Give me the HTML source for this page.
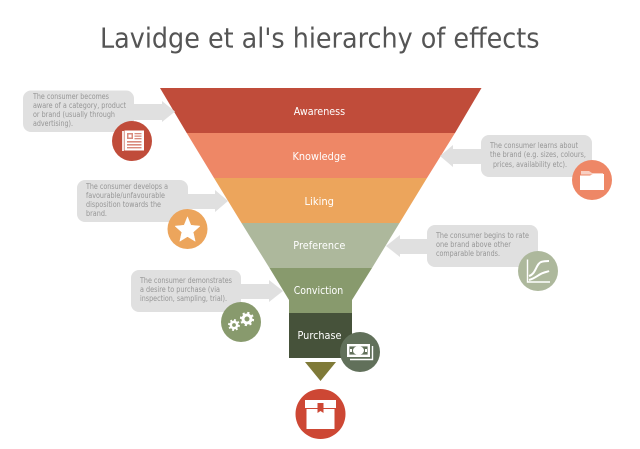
<!DOCTYPE html>
<html><head><meta charset="utf-8"><style>
html,body{margin:0;padding:0;background:#fff}
svg{display:block}
.n{font:8.2px "DejaVu Sans",sans-serif;fill:#969696}
.l{font:11px "DejaVu Sans",sans-serif;fill:#fff}
</style></head><body>
<svg width="640" height="449" viewBox="0 0 640 449" xmlns="http://www.w3.org/2000/svg">
<rect width="640" height="449" fill="#fff"/>
<text x="100" y="47.5" textLength="439.5" lengthAdjust="spacingAndGlyphs" style="font:28px 'DejaVu Sans',sans-serif" fill="#555555">Lavidge et al's hierarchy of effects</text>

<!-- funnel -->
<polygon points="160,88 481.5,88 455,133 186.7,133" fill="#c04c3a"/>
<polygon points="186.7,133 455,133 427,178 214,178" fill="#ee8766"/>
<polygon points="214,178 427,178 399.5,223 241.5,223" fill="#eca55c"/>
<polygon points="241.5,223 399.5,223 372,268 269.5,268" fill="#adb89c"/>
<polygon points="269.5,268 372,268 352,300 352,313 289,313 289,300" fill="#889a6d"/>
<rect x="289" y="313" width="63" height="45" fill="#46523a"/>
<polygon points="305,362 336,362 320.5,381" fill="#7f7a38"/>

<!-- labels -->
<text class="l" x="293.7" y="115" textLength="51.5" lengthAdjust="spacingAndGlyphs">Awareness</text>
<text class="l" x="292.5" y="160" textLength="53.5" lengthAdjust="spacingAndGlyphs">Knowledge</text>
<text class="l" x="304.5" y="205" textLength="29.5" lengthAdjust="spacingAndGlyphs">Liking</text>
<text class="l" x="293.3" y="249" textLength="52" lengthAdjust="spacingAndGlyphs">Preference</text>
<text class="l" x="293.7" y="294" textLength="49.5" lengthAdjust="spacingAndGlyphs">Conviction</text>
<text class="l" x="297.5" y="339" textLength="44" lengthAdjust="spacingAndGlyphs">Purchase</text>

<!-- callouts -->
<g fill="#e0e0e0">
<rect x="23" y="90.5" width="111" height="41.5" rx="8"/>
<polygon points="130,104 162,104 162,101 175,111.5 162,122 162,120 130,120"/>
<rect x="77" y="180" width="111" height="42" rx="8"/>
<polygon points="184,194 215,194 215,190 228,201 215,212 215,209 184,209"/>
<rect x="481" y="135" width="111" height="42" rx="8"/>
<polygon points="485,149 453,149 453,145 440,156 453,167 453,164 485,164"/>
<rect x="427" y="225" width="111" height="42" rx="8"/>
<polygon points="431,239 400,239 400,235 386,246 400,257 400,254 431,254"/>
<rect x="131" y="270" width="110" height="42" rx="8"/>
<polygon points="237,284 269,284 269,280 283,291 269,302 269,299 237,299"/>
</g>

<g class="n">
<text class="n" x="33" y="99" textLength="76" lengthAdjust="spacingAndGlyphs">The consumer becomes</text>
<text class="n" x="33" y="108" textLength="93" lengthAdjust="spacingAndGlyphs">aware of a category, product</text>
<text class="n" x="33" y="117" textLength="82" lengthAdjust="spacingAndGlyphs">or brand (usually through</text>
<text class="n" x="33" y="126" textLength="40" lengthAdjust="spacingAndGlyphs">advertising).</text>

<text class="n" x="86" y="189" textLength="82" lengthAdjust="spacingAndGlyphs">The consumer develops a</text>
<text class="n" x="86" y="198" textLength="79" lengthAdjust="spacingAndGlyphs">favourable/unfavourable</text>
<text class="n" x="86" y="207" textLength="75" lengthAdjust="spacingAndGlyphs">disposition towards the</text>
<text class="n" x="86" y="216" textLength="21" lengthAdjust="spacingAndGlyphs">brand.</text>

<text class="n" x="490" y="148" textLength="88" lengthAdjust="spacingAndGlyphs">The consumer learns about</text>
<text class="n" x="490" y="157" textLength="96" lengthAdjust="spacingAndGlyphs">the brand (e.g. sizes, colours,</text>
<text class="n" x="493" y="167" textLength="74" lengthAdjust="spacingAndGlyphs">prices, availability etc).</text>

<text class="n" x="436" y="238" textLength="93" lengthAdjust="spacingAndGlyphs">The consumer begins to rate</text>
<text class="n" x="436" y="247" textLength="75" lengthAdjust="spacingAndGlyphs">one brand above other</text>
<text class="n" x="436" y="256" textLength="64" lengthAdjust="spacingAndGlyphs">comparable brands.</text>

<text class="n" x="140" y="283" textLength="92" lengthAdjust="spacingAndGlyphs">The consumer demonstrates</text>
<text class="n" x="140" y="292" textLength="80" lengthAdjust="spacingAndGlyphs">a desire to purchase (via</text>
<text class="n" x="140" y="301" textLength="87" lengthAdjust="spacingAndGlyphs">inspection, sampling, trial).</text>
</g>

<!-- newspaper icon -->
<circle cx="132" cy="141" r="20" fill="#c04c3a"/>
<rect x="122" y="131" width="2" height="20" fill="#fff" opacity=".85"/>
<rect x="124.5" y="130.5" width="19.5" height="20" fill="#fff"/>
<g fill="#d98a7c">
<rect x="127" y="133" width="6" height="6"/>
<rect x="128.5" y="134.5" width="3" height="3" fill="#fff"/>
<rect x="134.5" y="133" width="7" height="1.3"/>
<rect x="134.5" y="135.5" width="7" height="1.3"/>
<rect x="134.5" y="138" width="7" height="1.3"/>
<rect x="127" y="141" width="14.5" height="1.6"/>
<rect x="127" y="144" width="14.5" height="1.6"/>
<rect x="127" y="147" width="14.5" height="1.4"/>
</g>

<!-- star icon -->
<circle cx="187.5" cy="229" r="20" fill="#eca55c"/>
<polygon points="187.5,216.8 190.9,225.2 200,226.1 193.2,232.2 195.2,241.3 187.5,236.6 179.8,241.3 181.8,232.2 175,226.1 184.1,225.2" fill="#fff" stroke="#fff" stroke-width=".5" stroke-linejoin="round"/>

<!-- folder icon -->
<circle cx="592" cy="180" r="20" fill="#ee8766"/>
<polygon points="581,171 589,171 592,173 603,173 603,174.5 581,174.5" fill="#fff" opacity=".6"/>
<polygon points="580,175.5 590,175.5 593,174 604,174 604,190 580,190" fill="#fff"/>

<!-- chart icon -->
<circle cx="538" cy="271" r="20" fill="#adb89c"/>
<g fill="none" stroke="#fff">
<path d="M527.5,259.5 V282 H550" stroke-width="1.4"/>
<path d="M529,276 C536,274 536,264 541,262 C544,261 546,261 549,261" stroke-width="2"/>
<path d="M529,280 C536,278 539,274 543,273 C545,272 547,272 549,271" stroke-width="2"/>
</g>

<!-- gears icon -->
<circle cx="241" cy="322" r="20" fill="#889a6d"/>
<g fill="none" stroke="#fff">
<circle cx="247" cy="319" r="4" stroke-width="3"/>
<circle cx="247" cy="319" r="6.1" stroke-width="2" stroke-dasharray="2.2 2.6"/>
<circle cx="234" cy="325" r="3.2" stroke-width="2.6"/>
<circle cx="234" cy="325" r="5" stroke-width="1.8" stroke-dasharray="1.9 2"/>
</g>

<!-- money icon -->
<circle cx="360" cy="352" r="20" fill="#61705a"/>
<rect x="348.2" y="345.2" width="20.6" height="10.6" fill="#61705a" stroke="#fff" stroke-width="2.4"/>
<ellipse cx="358.5" cy="350.5" rx="5.5" ry="4.5" fill="#fff"/>
<rect x="350" y="349" width="2" height="3" fill="#fff"/>
<rect x="365" y="349" width="2" height="3" fill="#fff"/>
<path d="M372.5,346 V359.5 H350" fill="none" stroke="#fff" stroke-width="1.4"/>

<!-- box icon -->
<circle cx="320.5" cy="414" r="25" fill="#cd4734"/>
<rect x="305" y="400" width="31" height="8" fill="#fff"/>
<rect x="306.5" y="409" width="28" height="20" fill="#fff"/>
<polygon points="317.5,403 323.5,403 323.5,413 320.5,411 317.5,413" fill="#cd4734"/>
</svg>
</body></html>
